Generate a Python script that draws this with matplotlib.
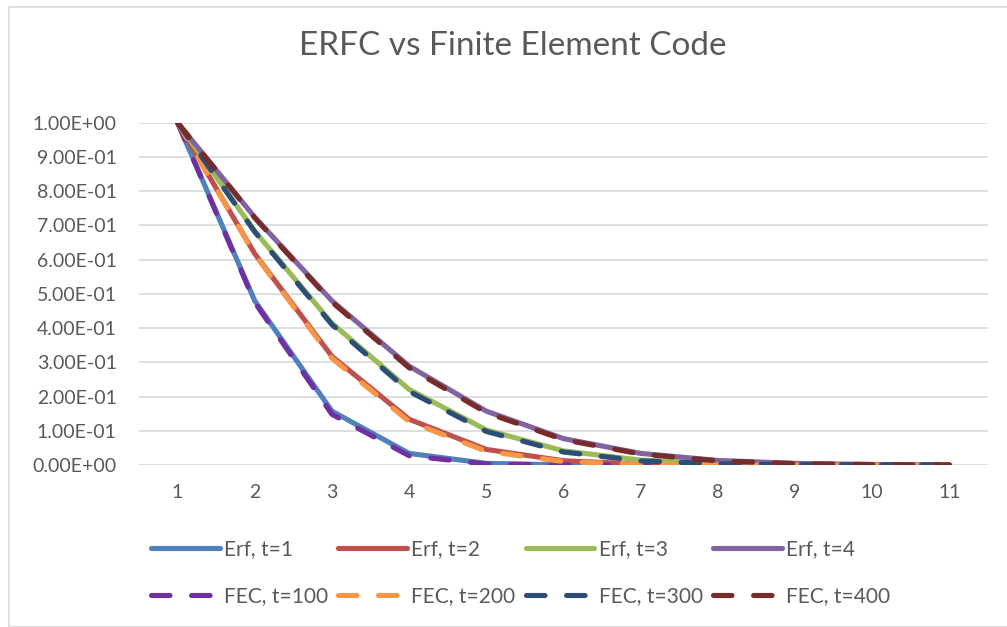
import matplotlib
matplotlib.use("Agg")
from matplotlib import pyplot as plt
from matplotlib.patches import Rectangle
from matplotlib.ticker import FuncFormatter

plt.rcParams['font.family'] = ['Lato', 'DejaVu Sans']

# x positions (categories 1..11)
x = [1, 2, 3, 4, 5, 6, 7, 8, 9, 10, 11]

# analytic erfc solutions
erf_t1 = [1.0, 0.4795, 0.1573, 0.0339, 0.0047, 0.0004, 0.00002, 0.0, 0.0, 0.0, 0.0]
erf_t2 = [1.0, 0.6171, 0.3173, 0.1336, 0.0455, 0.0124, 0.0027, 0.0005, 0.0001, 0.0, 0.0]
erf_t3 = [1.0, 0.6831, 0.4142, 0.2207, 0.1025, 0.0412, 0.0143, 0.0043, 0.0011, 0.0002, 0.00005]
erf_t4 = [1.0, 0.7237, 0.4795, 0.2888, 0.1573, 0.0771, 0.0339, 0.0133, 0.0047, 0.0015, 0.0004]

# finite element code results
fec_t100 = [1.0, 0.475, 0.148, 0.027, 0.003, 0.0002, 0.0, 0.0, 0.0, 0.0, 0.0]
fec_t200 = [1.0, 0.615, 0.312, 0.127, 0.040, 0.010, 0.002, 0.0003, 0.0, 0.0, 0.0]
fec_t300 = [1.0, 0.681, 0.410, 0.215, 0.098, 0.038, 0.012, 0.0035, 0.0008, 0.0002, 0.0]
fec_t400 = [1.0, 0.722, 0.476, 0.284, 0.153, 0.074, 0.032, 0.012, 0.004, 0.0012, 0.0003]

erf_series = [("Erf, t=1", erf_t1, "#4F81BD"),
              ("Erf, t=2", erf_t2, "#C0504D"),
              ("Erf, t=3", erf_t3, "#9BBB59"),
              ("Erf, t=4", erf_t4, "#8064A2")]
fec_series = [("FEC, t=100", fec_t100, "#7030A0"),
              ("FEC, t=200", fec_t200, "#F79646"),
              ("FEC, t=300", fec_t300, "#2C4D75"),
              ("FEC, t=400", fec_t400, "#772C2A")]

text_col = "#595959"
grid_col = "#D9D9D9"

fig = plt.figure(figsize=(10.07, 6.27), dpi=100)
ax = fig.add_axes([139 / 1007, 1 - 465 / 627, (988 - 139) / 1007, (465 - 122.7) / 627])

lw = 3.7
erf_lines = []
for label, y, c in erf_series:
    ln, = ax.plot(x, y, color=c, lw=lw, label=label, solid_capstyle='round', solid_joinstyle='round')
    erf_lines.append(ln)
fec_lines = []
for label, y, c in fec_series:
    ln, = ax.plot(x, y, color=c, lw=lw, label=label, dashes=(3.6, 4.2),
                  dash_capstyle='round', dash_joinstyle='round')
    fec_lines.append(ln)

ax.set_xlim(0.5, 11.5)
ax.set_ylim(0, 1.0)
ax.set_xticks(x)
ax.set_yticks([i / 10 for i in range(11)])
ax.yaxis.set_major_formatter(FuncFormatter(lambda v, p: f"{v:.2E}"))
ax.tick_params(length=0, labelsize=14, labelcolor=text_col)
ax.tick_params(axis='y', pad=16)
ax.tick_params(axis='x', pad=14)
ax.grid(axis='y', color=grid_col, lw=1.2)
ax.set_axisbelow(True)
for s in ax.spines.values():
    s.set_visible(False)

fig.text(513 / 1007, 1 - 55 / 627, "ERFC vs Finite Element Code", ha='center', va='baseline',
         fontsize=24, color=text_col)

# legend: Erf on first row, FEC on second row
handles = []
for a, b in zip(erf_lines, fec_lines):
    handles += [a, b]
leg = fig.legend(handles, [h.get_label() for h in handles], ncol=4, frameon=False,
                 loc='center left', bbox_to_anchor=(132 / 1007, 1 - 573 / 627),
                 fontsize=15, labelcolor=text_col, handlelength=3.3, handletextpad=0.2,
                 columnspacing=0.5, labelspacing=1.3)

fig.patches.append(Rectangle((8.5 / 1007, 0), 1.2, 1 - 6.5 / 627, transform=fig.transFigure,
                             fill=False, edgecolor=grid_col, lw=1.2))

fig.savefig("out.png", dpi=100)
